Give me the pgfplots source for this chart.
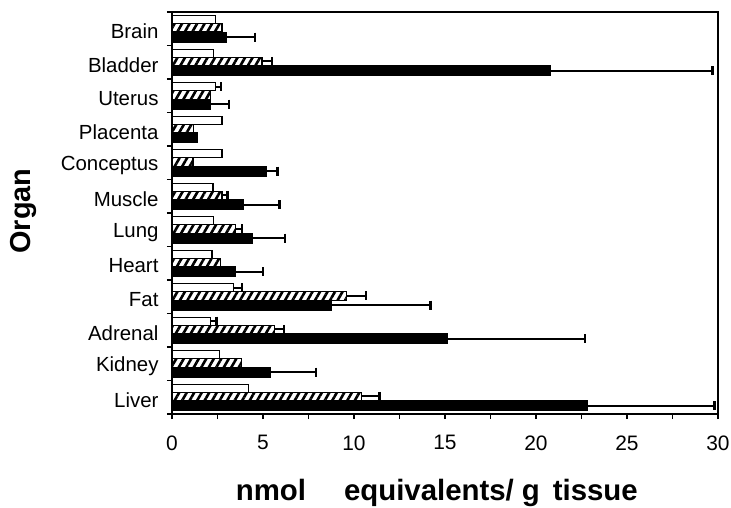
\documentclass[border=0pt]{standalone}
\usepackage{pgfplots}
\pgfplotsset{compat=1.18}
\usepackage{pgfplotstable}
\usepackage{fontspec}
\setmainfont{Liberation Sans}
\usetikzlibrary{patterns.meta}

% pos: 0 = Liver (bottom) ... 11 = Brain (top)
\pgfplotstableread{
pos white hatch black
0  4.2  10.4  22.8
1  2.6  3.8   5.4
2  2.1  5.65  15.1
3  3.4  9.6   8.75
4  2.2  2.65  3.5
5  2.3  3.5   4.4
6  2.25 2.75  3.9
7  2.75 1.15  5.2
8  2.75 1.2   1.4
9  2.4  2.1   2.1
10 2.3  4.95  20.8
11 2.4  2.75  3.0
}\bars

\pgfplotsset{
  whitebar/.style={xbar, bar width=0.24, bar shift=0.27, fill=white, draw=black, line width=1.2pt},
  hatchbar/.style={xbar, bar width=0.25, bar shift=0.025, fill=white, draw=black, line width=1.2pt,
     postaction={pattern={Lines[angle=60,distance=6.5bp,line width=2.6bp]}, pattern color=black}},
  blackbar/.style={xbar, bar width=0.30, bar shift=-0.25, fill=black, draw=black, line width=0.6pt},
  errs/.style={draw=none, no marks, forget plot, /pgfplots/error bars/.cd, x dir=plus, x explicit,
     error mark=|,
     error bar style={draw=black, line width=1.9pt},
     error mark options={draw=black, line width=2.3pt, mark size=4.5bp}},
}

\begin{document}
\begin{tikzpicture}
\useasboundingbox (-172bp,-94bp) rectangle (559bp,414bp);
\begin{axis}[
  scale only axis,
  width=546bp, height=402bp,
  xmin=0, xmax=30, ymin=-0.5, ymax=11.5,
  xtick={0,5,10,15,20,25,30},
  minor xtick={2.5,7.5,12.5,17.5,22.5,27.5},
  ytick={-0.5,0.5,1.5,2.5,3.5,4.5,5.5,6.5,7.5,8.5,9.5,10.5,11.5},
  yticklabels={},
  extra y ticks={0,1,2,3,4,5,6,7,8,9,10,11},
  extra y tick labels={Liver,Kidney,Adrenal,Fat,Heart,Lung,Muscle,Conceptus,Placenta,Uterus,Bladder,Brain},
  extra y tick style={major tick length=0pt, yticklabel style={yshift=-2.5bp}},
  xtick pos=bottom, ytick pos=left,
  tick align=outside,
  major tick length=5bp, minor tick length=5bp,
  every tick/.style={black, line width=1.3pt},
  axis line style={line width=1.4pt},
  tick label style={font=\fontsize{20.5}{24}\selectfont},
  /pgf/number format/assume math mode=true,
  xticklabel style={yshift=-13bp, font=\fontsize{21}{24}\selectfont},
  yticklabel style={xshift=-10bp},
  xlabel={\textbf{nmol\hspace{38bp}equivalents/\hspace{8bp}g\hspace{13bp}tissue}},
  xlabel style={font=\fontsize{29.5}{33}\selectfont, at={(axis description cs:0.485,0)}, anchor=base, yshift=-86bp},
  ylabel={\textbf{Organ}},
  ylabel style={font=\fontsize{29}{33}\selectfont, at={(axis description cs:0,0.505)}, anchor=base, rotate=0, yshift=141bp},
  clip=false,
]
% bars
\addplot[blackbar] table[x=black,y=pos]{\bars};
\addplot[hatchbar] table[x=hatch,y=pos]{\bars};
\addplot[whitebar] table[x=white,y=pos]{\bars};
% error bars of black bars (at bar centre, y = pos - 0.25)
\addplot[errs] coordinates {
 (22.8,-0.25) +- (7.0,0)
 (5.4,0.75) +- (2.5,0)
 (15.1,1.75) +- (7.6,0)
 (8.75,2.75) +- (5.45,0)
 (3.5,3.75) +- (1.5,0)
 (4.4,4.75) +- (1.8,0)
 (3.9,5.75) +- (2.0,0)
 (5.2,6.75) +- (0.6,0)
 (2.1,8.75) +- (1.05,0)
 (20.8,9.75) +- (8.9,0)
 (3.0,10.75) +- (1.55,0)
};
% error bars of hatched bars (y = pos + 0.025)
\addplot[errs] coordinates {
 (10.4,0.025) +- (1.0,0)
 (5.65,2.025) +- (0.5,0)
 (9.6,3.025) +- (1.05,0)
 (3.5,5.025) +- (0.35,0)
 (2.75,6.025) +- (0.3,0)
 (4.95,10.025) +- (0.55,0)
};
% error bars of white bars (y = pos + 0.27)
\addplot[errs] coordinates {
 (2.1,2.27) +- (0.35,0)
 (3.4,3.27) +- (0.45,0)
 (2.4,9.27) +- (0.3,0)
};
\end{axis}
\end{tikzpicture}
\end{document}
